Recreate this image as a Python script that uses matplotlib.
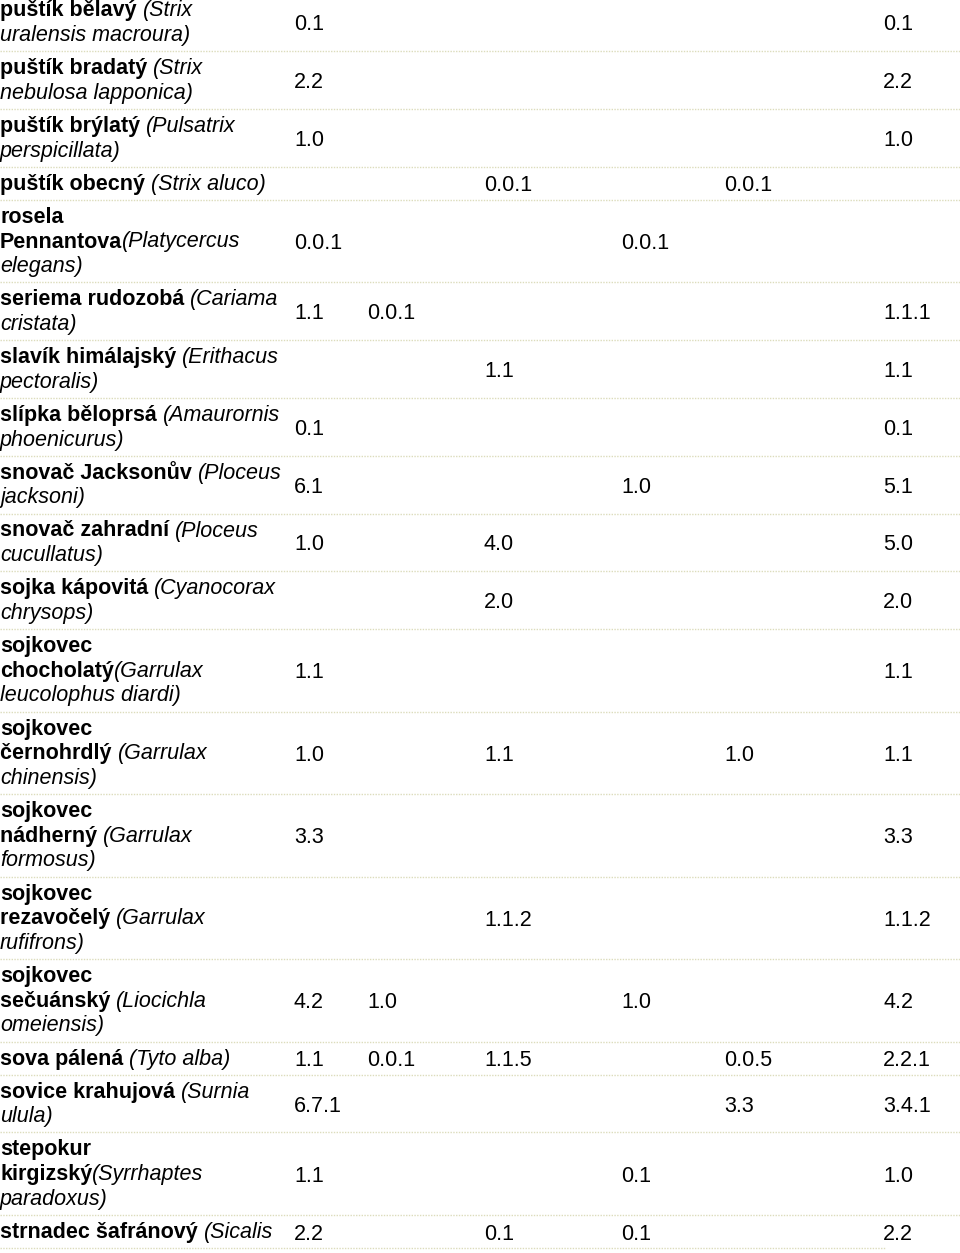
import matplotlib.pyplot as plt

# row labels: each line is (bold part, italic part)
names = [
    [("puštík bělavý ", "(Strix"), ("", "uralensis macroura)")],
    [("puštík bradatý ", "(Strix"), ("", "nebulosa lapponica)")],
    [("puštík brýlatý ", "(Pulsatrix"), ("", "perspicillata)")],
    [("puštík obecný ", "(Strix aluco)")],
    [("rosela", ""), ("Pennantova", "(Platycercus"), ("", "elegans)")],
    [("seriema rudozobá ", "(Cariama"), ("", "cristata)")],
    [("slavík himálajský ", "(Erithacus"), ("", "pectoralis)")],
    [("slípka běloprsá ", "(Amaurornis"), ("", "phoenicurus)")],
    [("snovač Jacksonův ", "(Ploceus"), ("", "jacksoni)")],
    [("snovač zahradní ", "(Ploceus"), ("", "cucullatus)")],
    [("sojka kápovitá ", "(Cyanocorax"), ("", "chrysops)")],
    [("sojkovec", ""), ("chocholatý", "(Garrulax"), ("", "leucolophus diardi)")],
    [("sojkovec", ""), ("černohrdlý ", "(Garrulax"), ("", "chinensis)")],
    [("sojkovec", ""), ("nádherný ", "(Garrulax"), ("", "formosus)")],
    [("sojkovec", ""), ("rezavočelý ", "(Garrulax"), ("", "rufifrons)")],
    [("sojkovec", ""), ("sečuánský ", "(Liocichla"), ("", "omeiensis)")],
    [("sova pálená ", "(Tyto alba)")],
    [("sovice krahujová ", "(Surnia"), ("", "ulula)")],
    [("stepokur", ""), ("kirgizský", "(Syrrhaptes"), ("", "paradoxus)")],
    [("strnadec šafránový ", "(Sicalis")],
]

# six value columns, "" = empty cell
col_a = ["0.1", "2.2", "1.0", "", "0.0.1", "1.1", "", "0.1", "6.1", "1.0",
         "", "1.1", "1.0", "3.3", "", "4.2", "1.1", "6.7.1", "1.1", "2.2"]
col_b = ["", "", "", "", "", "0.0.1", "", "", "", "",
         "", "", "", "", "", "1.0", "0.0.1", "", "", ""]
col_c = ["", "", "", "0.0.1", "", "", "1.1", "", "", "4.0",
         "2.0", "", "1.1", "", "1.1.2", "", "1.1.5", "", "", "0.1"]
col_d = ["", "", "", "", "0.0.1", "", "", "", "1.0", "",
         "", "", "", "", "", "1.0", "", "", "0.1", "0.1"]
col_e = ["", "", "", "0.0.1", "", "", "", "", "", "",
         "", "", "1.0", "", "", "", "0.0.5", "3.3", "", ""]
col_f = ["0.1", "2.2", "1.0", "", "", "1.1.1", "1.1", "0.1", "5.1", "5.0",
         "2.0", "1.1", "1.1", "3.3", "1.1.2", "4.2", "2.2.1", "3.4.1", "1.0", "2.2"]
columns = [col_a, col_b, col_c, col_d, col_e, col_f]
col_x = [294, 367, 484, 621, 724, 883]

W, H = 960, 1253
fig = plt.figure(figsize=(W / 100, H / 100), dpi=100)
ax = fig.add_axes([0, 0, 1, 1])
ax.set_xlim(0, W)
ax.set_ylim(H, 0)
ax.axis("off")

font = "Liberation Sans"
fs = 15.5
line_h = 24.7
pad = 8.4
rule_color = "#dcdcbc"

renderer = fig.canvas.get_renderer()
top = -6.7
for i, lines in enumerate(names):
    n = len(lines)
    h = line_h * n + pad
    for j, (bold, ital) in enumerate(lines):
        y = top + 23 + line_h * j
        x = 0
        if bold:
            t = ax.text(x, y, bold, fontfamily=font, fontsize=fs, fontweight="bold",
                        va="baseline", ha="left", color="black")
            bb = t.get_window_extent(renderer)
            x += bb.width
        if ital:
            ax.text(x, y, ital, fontfamily=font, fontsize=fs, fontstyle="italic",
                    va="baseline", ha="left", color="black")
    yv = top + h / 2 + 8
    for cx, col in zip(col_x, columns):
        if col[i]:
            ax.text(cx, yv, col[i], fontfamily=font, fontsize=fs,
                    va="baseline", ha="left", color="black")
    bottom = top + h
    xend = W if i < len(names) - 1 else 885
    ax.plot([0, xend], [bottom, bottom], color=rule_color, lw=1.0,
            linestyle=(0, (1, 1)))
    top = bottom

fig.savefig("out.png", dpi=100, facecolor="white")
